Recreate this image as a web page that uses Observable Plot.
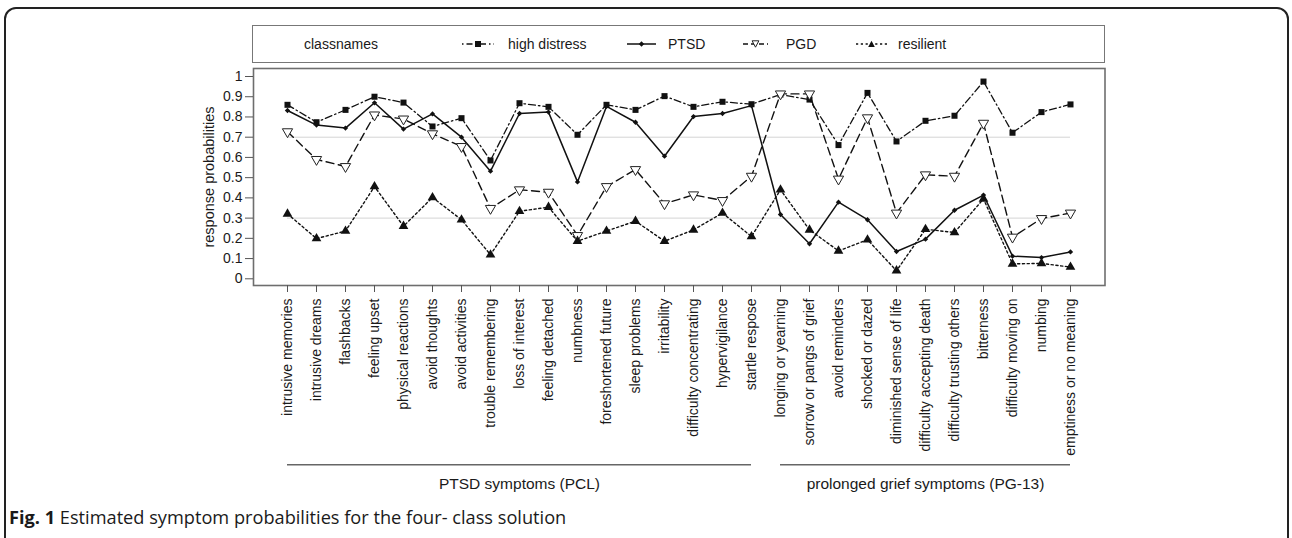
<!DOCTYPE html>
<html><head><meta charset="utf-8">
<script src="https://cdn.jsdelivr.net/npm/d3@7"></script>
<script src="https://cdn.jsdelivr.net/npm/@observablehq/plot@0.6"></script>
<style>
body{margin:0;background:#fff;}
#wrap{position:relative;width:1292px;height:538px;overflow:hidden;font-family:"Liberation Sans",Arial,sans-serif;color:#1a1a1a;}
#border{position:absolute;left:4px;top:7px;width:1285px;height:545px;border:2px solid #222;border-radius:12px;box-sizing:border-box;}
#legend{position:absolute;left:252px;top:25px;width:853px;height:38px;border:1.5px solid #777;box-sizing:border-box;font-size:14px;}
.li{position:absolute;top:0;height:100%;display:flex;align-items:center;white-space:nowrap;}
#caption{position:absolute;left:9px;top:505px;font-family:"Open Sans",sans-serif;font-size:18.2px;line-height:24px;color:#1a1a1a;white-space:nowrap;}
#chart{position:absolute;left:0;top:0;}
</style></head>
<body>
<div id="wrap">
  <div id="chart"></div>
  <div id="legend"></div>
  <div id="caption"><b>Fig. 1</b> Estimated symptom probabilities for the four- class solution</div>
  <div id="border"></div>
</div>
<script>
const categories = ["intrusive memories","intrusive dreams","flashbacks","feeling upset","physical reactions","avoid thoughts","avoid activities","trouble remembering","loss of interest","feeling detached","numbness","foreshortened future","sleep problems","irritability","difficulty concentrating","hypervigilance","startle respose","longing or yearning","sorrow or pangs of grief","avoid reminders","shocked or dazed","diminished sense of life","difficulty accepting death","difficulty trusting others","bitterness","difficulty moving on","numbing","emptiness or no meaning"];

const highDistress = [0.86,0.774,0.835,0.90,0.871,0.753,0.794,0.585,0.868,0.85,0.712,0.86,0.835,0.903,0.85,0.875,0.863,0.911,0.886,0.661,0.919,0.679,0.781,0.806,0.975,0.722,0.824,0.862];
const ptsd = [0.832,0.76,0.745,0.87,0.74,0.815,0.70,0.532,0.817,0.824,0.479,0.852,0.774,0.606,0.802,0.817,0.856,0.318,0.173,0.379,0.292,0.135,0.196,0.339,0.414,0.112,0.105,0.133];
const pgd = [0.727,0.59,0.555,0.81,0.79,0.717,0.654,0.348,0.44,0.428,0.214,0.456,0.54,0.371,0.415,0.387,0.507,0.914,0.914,0.493,0.796,0.325,0.514,0.507,0.769,0.206,0.298,0.325];
const resilient = [0.321,0.199,0.236,0.456,0.26,0.402,0.292,0.119,0.334,0.354,0.186,0.236,0.285,0.186,0.242,0.325,0.209,0.44,0.242,0.138,0.193,0.04,0.245,0.229,0.395,0.074,0.076,0.058];

const classNames = ["high distress","PTSD","PGD","resilient"];
const yTicks = [0,0.1,0.2,0.3,0.4,0.5,0.6,0.7,0.8,0.9,1];
const gridValues = [0.3,0.7];
const groups = [
  {label:"PTSD symptoms (PCL)", first:"intrusive memories", last:"startle respose", mid:"loss of interest"},
  {label:"prolonged grief symptoms (PG-13)", first:"longing or yearning", last:"emptiness or no meaning", mid:"difficulty accepting death"}
];

const seriesValues = {"high distress": highDistress, "PTSD": ptsd, "PGD": pgd, "resilient": resilient};
const rows = [];
for (const c of classNames) seriesValues[c].forEach((v,i) => rows.push({cls:c, symptom:categories[i], p:v}));
const sel = c => rows.filter(r => r.cls === c);

const lineStyle = {
  "high distress": {dash:"7 3 1.5 3", w:1.3},
  "PTSD": {dash:null, w:1.5},
  "PGD": {dash:"8 4.5", w:1.4},
  "resilient": {dash:"2.2 2.6", w:1.4}
};

const marks = [
  Plot.ruleY(gridValues, {x1: () => categories[0], x2: () => categories[categories.length-1], stroke:"#c9c9c9", strokeWidth:0.8}),
  Plot.frame({stroke:"#6e6e6e", strokeWidth:1.6}),
];
for (const c of classNames) {
  marks.push(Plot.line(sel(c), {x:"symptom", y:"p", stroke:"#111", strokeWidth:lineStyle[c].w, strokeDasharray:lineStyle[c].dash}));
}
marks.push(
  Plot.dot(sel("high distress"), {x:"symptom", y:"p", symbol:"square", r:3.4, fill:"#111", stroke:"none"}),
  Plot.dot(sel("PTSD"), {x:"symptom", y:"p", symbol:"diamond2", r:2.4, fill:"#111", stroke:"none"}),
  Plot.dot(sel("PGD"), {x:"symptom", y:"p", symbol:"triangle", r:3.8, rotate:180, fill:"white", stroke:"#222", strokeWidth:1}),
  Plot.dot(sel("resilient"), {x:"symptom", y:"p", symbol:"triangle", r:3.6, fill:"#111", stroke:"none"}),
  Plot.axisY({ticks:yTicks, tickSize:8, tickPadding:3, tickFormat:d => String(+d.toFixed(1)), label:null, fontSize:14, stroke:"#555"}),
  Plot.axisX({tickRotate:-90, tickSize:7, tickPadding:6, label:null, fontSize:14, stroke:"#555"}),
  Plot.text(["response probabilities"], {frameAnchor:"left", dx:-44, rotate:-90, textAnchor:"middle", fontSize:14.5, fill:"#1a1a1a"}),
  Plot.ruleY(groups, {y: () => 0, x1:"first", x2:"last", dy:186, stroke:"#666", strokeWidth:1.4}),
  Plot.text(groups, {x:"mid", y: () => 0, text:"label", dy:205, fontSize:15.5, fill:"#1a1a1a"})
);

const chart = Plot.plot({
  width:1292, height:538,
  marginLeft:253, marginRight:187.5, marginTop:68, marginBottom:253,
  style:{fontFamily:"Liberation Sans, Arial, sans-serif", fontSize:"14px", color:"#1a1a1a", background:"transparent", overflow:"visible"},
  x:{type:"point", domain:categories, range:[284.3,1073.3], padding:0},
  y:{domain:[0,1], range:[278.3,76]},
  marks
});
document.getElementById("chart").appendChild(chart);

// legend
const legendItems = [
  {kind:"title", text:"classnames", left:51},
  {cls:"high distress", symLeft:209, textLeft:255},
  {cls:"PTSD", symLeft:374, textLeft:415},
  {cls:"PGD", symLeft:490, textLeft:533},
  {cls:"resilient", symLeft:603, textLeft:645}
];
function symbolSvg(c){
  const st = lineStyle[c];
  const W = {"high distress":32,"PTSD":29,"PGD":25,"resilient":31}[c];
  const m = W/2;
  let marker = "";
  if (c==="high distress") marker = `<rect x="${m-3}" y="3" width="6" height="6" fill="#111"/>`;
  if (c==="PTSD") marker = `<path d="M${m},3.3L${m+2.7},6L${m},8.7L${m-2.7},6Z" fill="#111"/>`;
  if (c==="PGD") marker = `<path d="M${m-3.4},2.8L${m+3.4},2.8L${m},9.2Z" fill="white" stroke="#222" stroke-width="1"/>`;
  if (c==="resilient") marker = `<path d="M${m-3.3},9L${m+3.3},9L${m},2.8Z" fill="#111"/>`;
  const dash = st.dash ? `stroke-dasharray="${c==="high distress" ? "1.5 3 6 3" : c==="PGD" ? "5 3" : st.dash}"` : "";
  return `<svg width="${W}" height="12" style="display:block"><line x1="0" y1="6" x2="${W}" y2="6" stroke="#111" stroke-width="${st.w}" ${dash}/>${marker}</svg>`;
}
const leg = document.getElementById("legend");
for (const it of legendItems) {
  if (it.kind==="title") {
    const s = document.createElement("div"); s.className="li"; s.style.left=it.left+"px"; s.textContent=it.text; leg.appendChild(s);
  } else {
    const s = document.createElement("div"); s.className="li"; s.style.left=it.symLeft+"px"; s.innerHTML=symbolSvg(it.cls); leg.appendChild(s);
    const t = document.createElement("div"); t.className="li"; t.style.left=it.textLeft+"px"; t.textContent=it.cls; leg.appendChild(t);
  }
}
</script>
</body></html>
